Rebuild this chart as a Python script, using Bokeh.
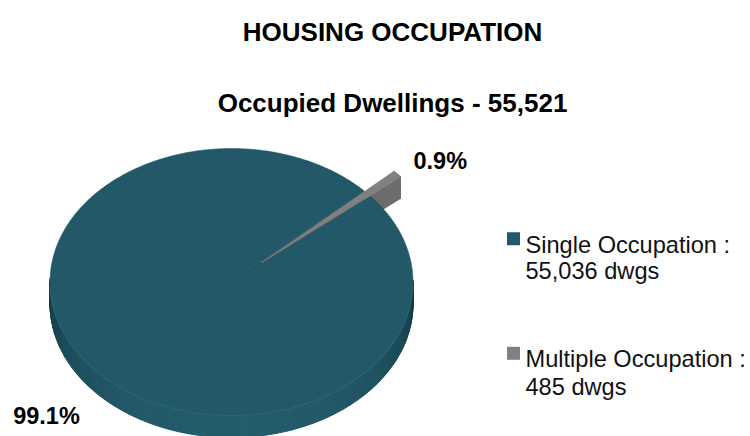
import numpy as np
from bokeh.plotting import figure
from bokeh.models import Range1d
from bokeh.core.properties import value
from bokeh.embed import file_html
from bokeh.resources import INLINE

# ---------------- data ----------------
categories = ["Single Occupation", "Multiple Occupation"]
dwellings = [55036, 485]
pct_labels = ["99.1%", "0.9%"]
legend_line1 = ["Single Occupation :", "Multiple Occupation :"]
legend_line2 = ["55,036 dwgs", "485 dwgs"]
title_text = "HOUSING OCCUPATION"
subtitle_text = "Occupied Dwellings - 55,521"

# ---------------- style / layout ----------------
top_colors = ["#235868", "#808080"]
cut_colors = ["#1b4a57", "#6c6c6c"]
side_dark = np.array([18, 52, 62])
side_light = np.array([36, 92, 108])
grey_side = "#6b6b6b"
explode = [0.0, 0.22]
CX, CY, RX, RY, DEPTH = 231.0, 281.5, 181.5, 133.5, 22.0
START = 40.0  # degrees (counter-clockwise from 3 o'clock)
FONT = "Liberation Sans"

W, H = 750, 436
p = figure(width=W, height=H, output_backend="svg", toolbar_location=None,
           x_range=Range1d(0, W), y_range=Range1d(H, 0),
           min_border=0, outline_line_color=None)
p.axis.visible = False
p.grid.visible = False
p.background_fill_color = "white"
p.border_fill_color = "white"

vals = np.array(dwellings, dtype=float)
fr = vals / vals.sum()
ends, starts = [], []
cum = 0.0
for f in fr:
    e = START + 360.0 - cum * 360.0
    s = e - f * 360.0
    ends.append(e)
    starts.append(s)
    cum += f


def offs(i):
    mid = np.radians((starts[i] + ends[i]) / 2)
    return explode[i] * RX * np.cos(mid), -explode[i] * RY * np.sin(mid)


def P(tdeg, ox=0.0, oy=0.0, dz=0.0):
    t = np.radians(tdeg)
    return CX + RX * np.cos(t) + ox, CY - RY * np.sin(t) + oy + dz


def hexcol(c):
    c = np.clip(np.round(c), 0, 255).astype(int)
    return "#%02x%02x%02x" % tuple(c)


# 1) outer rim (side) faces
strip_xs, strip_ys, strip_cols = [], [], []
for i in range(len(vals)):
    ox, oy = offs(i)
    n = max(int((ends[i] - starts[i]) / 1.0), 2)
    ts = np.linspace(starts[i], ends[i], n + 1)
    for a, b in zip(ts[:-1], ts[1:]):
        m = (a + b) / 2
        s_m = np.sin(np.radians(m))
        if s_m >= 0.02 and explode[i] == 0:
            continue
        x1, y1 = P(a, ox, oy)
        x2, y2 = P(b, ox, oy)
        strip_xs.append([x1, x2, x2, x1])
        strip_ys.append([y1, y2, y2 + DEPTH, y1 + DEPTH])
        if i == 0:
            f = np.clip(-s_m, 0, 1) ** 0.6
            strip_cols.append(hexcol(side_dark + (side_light - side_dark) * f))
        else:
            strip_cols.append(grey_side)

# 2) cut faces (visible ones)
cut_xs, cut_ys, cut_cols = [], [], []
for i in range(len(vals)):
    ox, oy = offs(i)
    for ang, vis in ((starts[i], np.cos(np.radians(starts[i])) > 0),
                     (ends[i], np.cos(np.radians(ends[i])) < 0)):
        if not vis:
            continue
        x1, y1 = CX + ox, CY + oy
        x2, y2 = P(ang, ox, oy)
        cut_xs.append([x1, x2, x2, x1])
        cut_ys.append([y1, y2, y2 + DEPTH, y1 + DEPTH])
        cut_cols.append(cut_colors[i])

p.patches([cut_xs[0]], [cut_ys[0]], fill_color=[cut_cols[0]],
          line_color=[cut_cols[0]], line_width=0.5)
p.patches(strip_xs, strip_ys, fill_color=strip_cols, line_color=strip_cols,
          line_width=1)
if len(cut_xs) > 1:
    p.patches(cut_xs[1:], cut_ys[1:], fill_color=cut_cols[1:],
              line_color=cut_cols[1:], line_width=0.5)

# 3) top faces
for i in range(len(vals)):
    ox, oy = offs(i)
    n = max(int((ends[i] - starts[i]) / 0.5), 4)
    ts = np.linspace(starts[i], ends[i], n + 1)
    xs, ys = P(ts, ox, oy)
    xs = np.concatenate([[CX + ox], xs])
    ys = np.concatenate([[CY + oy], ys])
    p.patch(xs, ys, fill_color=top_colors[i], line_color=top_colors[i],
            line_width=0.5)

# subtle highlight on the front edge of the top face
ts = np.linspace(182, 358, 200)
hx, hy = P(ts)
p.line(hx, hy, line_color="#2d6878", line_width=1.2, line_alpha=0.8)

# ---------------- texts ----------------
p.text(x=[392], y=[31.7], text=[title_text], text_font=value(FONT),
       text_font_style="bold", text_font_size="26px", text_align="center",
       text_baseline="alphabetic", text_color="black")
p.text(x=[392], y=[102.3], text=[subtitle_text], text_font=value(FONT),
       text_font_style="bold", text_font_size="26px", text_align="center",
       text_baseline="alphabetic", text_color="black")

p.text(x=[12.7, 413], y=[415, 160], text=pct_labels, text_font=value(FONT),
       text_font_style="bold", text_font_size="23.5px", text_align="left",
       text_baseline="alphabetic", text_color="black")

leg_x = 513
leg_y = [238.2, 352.8]
p.rect(x=[leg_x, leg_x], y=leg_y, width=13, height=13,
       fill_color=top_colors, line_color=None)
p.text(x=[525, 525], y=[244.2, 358.6], text=legend_line1, text_font=value(FONT),
       text_font_size="23.6px", text_align="left", text_baseline="alphabetic",
       text_color="#111111")
p.text(x=[525, 525], y=[270.5, 386], text=legend_line2, text_font=value(FONT),
       text_font_size="23.6px", text_align="left", text_baseline="alphabetic",
       text_color="#111111")

open("out.html", "w").write(file_html(p, INLINE))
